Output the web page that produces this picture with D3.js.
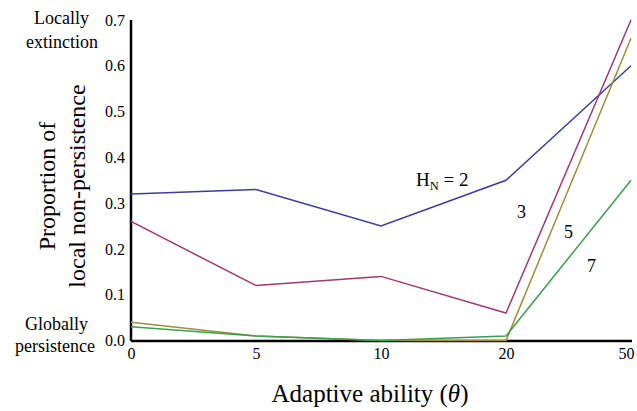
<!DOCTYPE html>
<html>
<head>
<meta charset="utf-8">
<script src="https://cdn.jsdelivr.net/npm/d3@7"></script>
<style>
  body { margin: 0; background: #fff; }
  svg text { font-family: "Liberation Serif", "Times New Roman", "DejaVu Serif", serif !important; fill: #000; }
</style>
</head>
<body>
<svg id="chart" width="637" height="411"></svg>
<script>
const thetas = ["0", "5", "10", "20", "50"];
const yTicks = [0, 0.1, 0.2, 0.3, 0.4, 0.5, 0.6, 0.7];
const hn2 = [0.32, 0.33, 0.25, 0.35, 0.60];
const hn3 = [0.26, 0.12, 0.14, 0.06, 0.70];
const hn5 = [0.04, 0.01, 0.0, 0.0, 0.66];
const hn7 = [0.03, 0.01, 0.0, 0.01, 0.35];
const seriesNames = ["HN = 2", "3", "5", "7"];
const colors = ["#3c3ca0", "#a03872", "#a08c3c", "#38a050"];

const series = [hn2, hn3, hn5, hn7];

const svg = d3.select("#chart");
const margin = { top: 20, right: 5, bottom: 70, left: 131 };
const width = 637 - margin.left - margin.right;
const height = 411 - margin.top - margin.bottom;

const g = svg.append("g").attr("transform", `translate(${margin.left},${margin.top})`);

const x = d3.scalePoint().domain(thetas).range([0, 500]);
const y = d3.scaleLinear().domain([0, 0.7]).range([height - 0.5, 0]);

// axes
const xAxis = g.append("g")
    .attr("transform", `translate(0,${height})`)
    .call(d3.axisBottom(x).tickSize(0).tickPadding(7));
xAxis.select(".domain").attr("stroke", "#000").attr("stroke-width", 2.5)
    .attr("d", `M0,0H${x("50") + 1}`);
xAxis.selectAll("text").style("font-size", "16px");
xAxis.selectAll("text").filter(d => d === "50").attr("dx", -5);

const yAxis = g.append("g")
    .call(d3.axisLeft(y).tickValues(yTicks).tickFormat(d3.format(".1f")).tickSize(0).tickPadding(6));
yAxis.select(".domain").attr("stroke", "#000").attr("stroke-width", 2.5)
    .attr("d", `M0,${height}V0`);
yAxis.selectAll("text").style("font-size", "16px");

// lines
const line = d3.line()
    .x((d, i) => x(thetas[i]))
    .y(d => y(d));

series.forEach((s, i) => {
    g.append("path")
        .datum(s)
        .attr("fill", "none")
        .attr("stroke", colors[i])
        .attr("stroke-width", 1.5)
        .attr("d", line);
});

// line labels
const hnLabel = g.append("text")
    .attr("x", 285).attr("y", 166)
    .style("font-size", "19px");
hnLabel.append("tspan").text("H");
hnLabel.append("tspan").attr("dy", 4).style("font-size", "12.5px").text("N");
hnLabel.append("tspan").attr("dy", -4).text(" = 2");

g.append("text").attr("x", 386).attr("y", 198).style("font-size", "18px").text(seriesNames[1]);
g.append("text").attr("x", 433).attr("y", 218).style("font-size", "18px").text(seriesNames[2]);
g.append("text").attr("x", 456).attr("y", 252).style("font-size", "18px").text(seriesNames[3]);

// side annotations
const side = svg.append("g").style("font-size", "18px").attr("text-anchor", "end");
side.append("text").attr("x", 89).attr("y", 24).text("Locally");
side.append("text").attr("x", 98).attr("y", 48).text("extinction");
side.append("text").attr("x", 88).attr("y", 330).text("Globally");
side.append("text").attr("x", 95).attr("y", 352).text("persistence");

// axis titles
svg.append("text")
    .attr("x", 370).attr("y", 402)
    .attr("text-anchor", "middle")
    .style("font-size", "25px")
    .html("Adaptive ability (<tspan font-style='italic'>θ</tspan>)");

const yTitle = svg.append("text")
    .attr("transform", "translate(0,186) rotate(-90)")
    .attr("text-anchor", "middle")
    .style("font-size", "24px");
yTitle.append("tspan").attr("x", 0).attr("y", 55).text("Proportion of");
yTitle.append("tspan").attr("x", 0).attr("y", 85).text("local non-persistence");
</script>
</body>
</html>
